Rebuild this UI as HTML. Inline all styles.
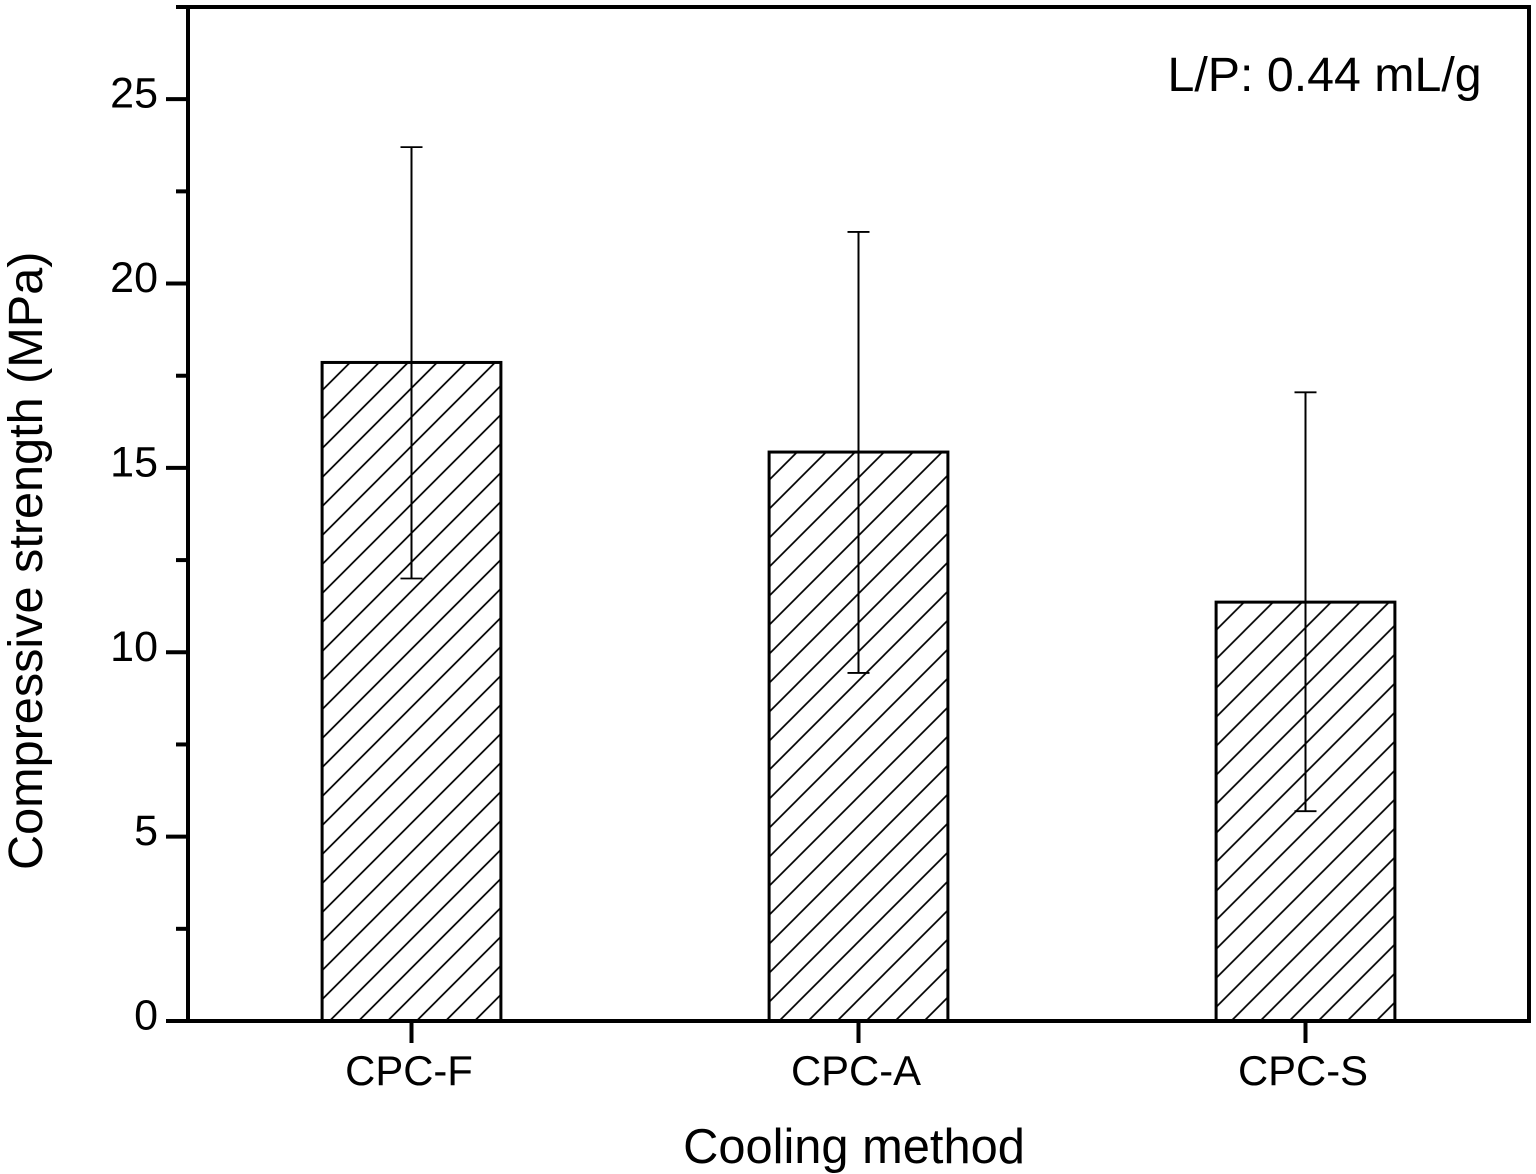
<!DOCTYPE html>
<html lang="en">
<head>
<meta charset="utf-8">
<title>Compressive strength by cooling method</title>
<style>
html,body{margin:0;padding:0;background:#fff;width:1536px;height:1174px;overflow:hidden}
svg{display:block}
text{font-family:"Liberation Sans",Arial,sans-serif;fill:#000}
</style>
</head>
<body>
<svg id="chart" xmlns="http://www.w3.org/2000/svg" width="1536" height="1174" viewBox="0 0 1536 1174">
<defs id="defs"></defs>
<rect x="0" y="0" width="1536" height="1174" fill="#fff"></rect>
<g id="bars"></g>
<g id="errors"></g>
<g id="axes"></g>
<text transform="translate(42,870) rotate(-90)" font-size="48.6" x="0" y="0">Compressive strength (MPa)</text>
<text x="854" y="1163" font-size="48.8" text-anchor="middle">Cooling method</text>
<text x="1167.5" y="91" font-size="48.3">L/P: 0.44 mL/g</text>
</svg>
<script>
const categories = ['CPC-F', 'CPC-A', 'CPC-S'];
const strengthValues = [17.86, 15.43, 11.36];
const errorUpper = [23.7, 21.4, 17.05];
const errorLower = [12.0, 9.44, 5.69];
const yMajorTicks = [0, 5, 10, 15, 20, 25];
const yMinorTicks = [2.5, 7.5, 12.5, 17.5, 22.5, 27.5];

const NS = 'http://www.w3.org/2000/svg';
const plot = { left: 188, right: 1529, top: 7, bottom: 1021 };
const yMax = 27.5;
const barWidthUnits = 0.4;
const hatchStep = 29;

function xScale(i) {
  return plot.left + (i + 0.5) * (plot.right - plot.left) / categories.length;
}
function yScale(v) {
  return plot.bottom - v * (plot.bottom - plot.top) / yMax;
}
function make(tag, attrs, parent) {
  const node = document.createElementNS(NS, tag);
  for (const key in attrs) node.setAttribute(key, attrs[key]);
  parent.appendChild(node);
  return node;
}

const defs = document.getElementById('defs');
const barsGroup = document.getElementById('bars');
const errorsGroup = document.getElementById('errors');
const axesGroup = document.getElementById('axes');
const barPixelWidth = barWidthUnits * (plot.right - plot.left) / categories.length;

categories.forEach(function (name, i) {
  const cx = xScale(i);
  const left = cx - barPixelWidth / 2;
  const top = yScale(strengthValues[i]);
  const id = 'hatch-' + i;

  const pattern = make('pattern', { id: id, patternUnits: 'userSpaceOnUse', width: hatchStep, height: hatchStep, patternTransform: 'translate(' + (left - 1) + ',' + top + ')' }, defs);
  make('path', { d: 'M-2,' + (hatchStep + 2) + 'L' + (hatchStep + 2) + ',-2M-2,2L2,-2M' + (hatchStep - 2) + ',' + (hatchStep + 2) + 'L' + (hatchStep + 2) + ',' + (hatchStep - 2), stroke: '#000', 'stroke-width': 1.7, fill: 'none' }, pattern);

  const bar = make('rect', { x: left, y: top, width: barPixelWidth, height: plot.bottom - top, fill: 'url(#' + id + ')', stroke: '#000', 'stroke-width': 3 }, barsGroup);
  
  

  const stem = make('line', { x1: cx, x2: cx, y1: yScale(errorUpper[i]), y2: yScale(errorLower[i]), stroke: '#000', 'stroke-width': 2 }, errorsGroup);
  
  

  const capTop = make('line', { x1: cx - 11, x2: cx + 11, y1: yScale(errorUpper[i]), y2: yScale(errorUpper[i]), stroke: '#000', 'stroke-width': 1.8 }, errorsGroup);
  
  

  const capBottom = make('line', { x1: cx - 11, x2: cx + 11, y1: yScale(errorLower[i]), y2: yScale(errorLower[i]), stroke: '#000', 'stroke-width': 1.8 }, errorsGroup);
  
  

  const tick = make('line', { x1: cx, x2: cx, y1: plot.bottom, y2: plot.bottom + 22, stroke: '#000', 'stroke-width': 4 }, axesGroup);
  
  

  const label = make('text', { x: cx - 2.5, y: 1085, 'font-size': 41.8, 'text-anchor': 'middle' }, axesGroup);
  label.textContent = name;
  
  
});

const frame = make('rect', { x: plot.left, y: plot.top, width: plot.right - plot.left, height: plot.bottom - plot.top, fill: 'none', stroke: '#000', 'stroke-width': 4 }, axesGroup);



yMajorTicks.forEach(function (v) {
  const tick = make('line', { x1: 166, x2: plot.left, y1: yScale(v), y2: yScale(v), stroke: '#000', 'stroke-width': 4 }, axesGroup);
  
  

  const label = make('text', { x: 158, y: yScale(v) + 8.5, 'font-size': 43, 'text-anchor': 'end' }, axesGroup);
  label.textContent = String(v);
  
  
});

yMinorTicks.forEach(function (v) {
  const tick = make('line', { x1: 176, x2: plot.left, y1: yScale(v), y2: yScale(v), stroke: '#000', 'stroke-width': 4 }, axesGroup);
  
  
});
</script>
</body>
</html>
